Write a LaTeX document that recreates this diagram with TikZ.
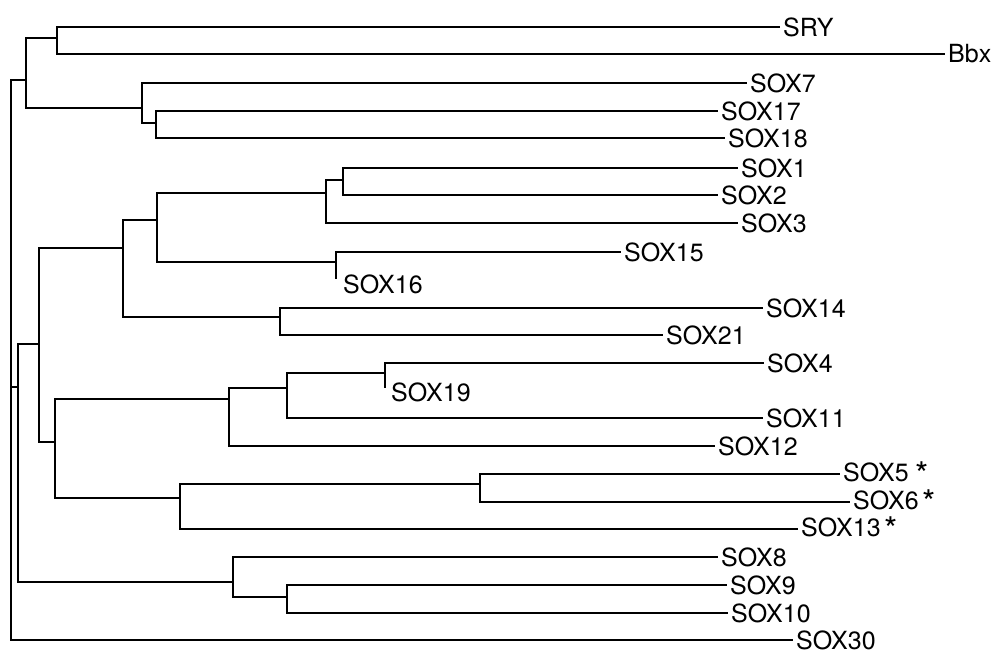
\documentclass[tikz,border=0pt]{standalone}
\usepackage{fontspec}
\setmainfont{TeX Gyre Heros}
\newcommand{\bigast}{{\fontsize{34}{30}\selectfont\raisebox{-4.5pt}{*}}}
\begin{document}
\begin{tikzpicture}[x=1pt,y=-1pt,
  branch/.style={line width=2.4pt, black, line join=miter},
  tip/.style={anchor=west, inner xsep=3pt, inner ysep=0pt, font=\fontsize{25}{30}\selectfont},
  zerotip/.style={tip, inner xsep=0pt}]
\useasboundingbox (0,0) rectangle (1003,665);

% internal nodes
\coordinate (root) at (11,387);
\coordinate (nA) at (26,80);
\coordinate (nSB) at (57,38);
\coordinate (n7) at (142,108);
\coordinate (n1718) at (156,123);
\coordinate (nB) at (18,387);
\coordinate (nC) at (39,344);
\coordinate (nD) at (123,248);
\coordinate (nE) at (157,220);
\coordinate (nF) at (326,193);
\coordinate (nG) at (343,180);
\coordinate (nH) at (336,262);
\coordinate (nI) at (280,317);
\coordinate (nJ) at (55,442);
\coordinate (nK) at (229,399);
\coordinate (nL) at (287,388);
\coordinate (nM) at (385,373);
\coordinate (nN) at (180,498);
\coordinate (nO) at (480,484);
\coordinate (nP) at (233,582);
\coordinate (nQ) at (287,597);
\coordinate (t16) at (336,279);
\coordinate (t19) at (385,388);

% leaves
\node[tip] (sry) at (780,27) {SRY};
\node[tip] (bbx) at (945,54) {Bbx};
\node[tip] (sox7) at (747,83) {SOX7};
\node[tip] (sox17) at (718,111) {SOX17};
\node[tip] (sox18) at (725,138) {SOX18};
\node[tip] (sox1) at (738,168) {SOX1};
\node[tip] (sox2) at (718,195) {SOX2};
\node[tip] (sox3) at (738,223) {SOX3};
\node[tip] (sox15) at (621,252) {SOX15};
\node[zerotip] (sox16) at (343,284) {SOX16};
\node[tip] (sox14) at (763,308) {SOX14};
\node[tip] (sox21) at (663,335) {SOX21};
\node[tip] (sox4) at (764,363) {SOX4};
\node[zerotip] (sox19) at (391,392) {SOX19};
\node[tip] (sox11) at (763,418) {SOX11};
\node[tip] (sox12) at (715,446) {SOX12};
\node[tip] (sox5) at (840,474) {SOX5 \bigast};
\node[tip] (sox6) at (850,502) {SOX6\,\bigast};
\node[tip] (sox13) at (798,529) {SOX13\,\bigast};
\node[tip] (sox8) at (718,557) {SOX8};
\node[tip] (sox9) at (727,585) {SOX9};
\node[tip] (sox10) at (728,613) {SOX10};
\node[tip] (sox30) at (793,640) {SOX30};

% branches
\draw[branch] (root) |- (nA);
\draw[branch] (root) |- (nB);
\draw[branch] (root) |- (sox30.west);
\draw[branch] (nA) |- (nSB);
\draw[branch] (nA) |- (n7);
\draw[branch] (nSB) |- (sry.west);
\draw[branch] (nSB) |- (bbx.west);
\draw[branch] (n7) |- (sox7.west);
\draw[branch] (n7) |- (n1718);
\draw[branch] (n1718) |- (sox17.west);
\draw[branch] (n1718) |- (sox18.west);
\draw[branch] (nB) |- (nC);
\draw[branch] (nB) |- (nP);
\draw[branch] (nC) |- (nD);
\draw[branch] (nC) |- (nJ);
\draw[branch] (nD) |- (nE);
\draw[branch] (nD) |- (nI);
\draw[branch] (nE) |- (nF);
\draw[branch] (nE) |- (nH);
\draw[branch] (nF) |- (nG);
\draw[branch] (nF) |- (sox3.west);
\draw[branch] (nG) |- (sox1.west);
\draw[branch] (nG) |- (sox2.west);
\draw[branch] (nH) |- (sox15.west);
\draw[branch] (nH) -- (t16);
\draw[branch] (nI) |- (sox14.west);
\draw[branch] (nI) |- (sox21.west);
\draw[branch] (nJ) |- (nK);
\draw[branch] (nJ) |- (nN);
\draw[branch] (nK) |- (nL);
\draw[branch] (nK) |- (sox12.west);
\draw[branch] (nL) |- (nM);
\draw[branch] (nL) |- (sox11.west);
\draw[branch] (nM) |- (sox4.west);
\draw[branch] (nM) -- (t19);
\draw[branch] (nN) |- (nO);
\draw[branch] (nN) |- (sox13.west);
\draw[branch] (nO) |- (sox5.west);
\draw[branch] (nO) |- (sox6.west);
\draw[branch] (nP) |- (sox8.west);
\draw[branch] (nP) |- (nQ);
\draw[branch] (nQ) |- (sox9.west);
\draw[branch] (nQ) |- (sox10.west);
\end{tikzpicture}
\end{document}
